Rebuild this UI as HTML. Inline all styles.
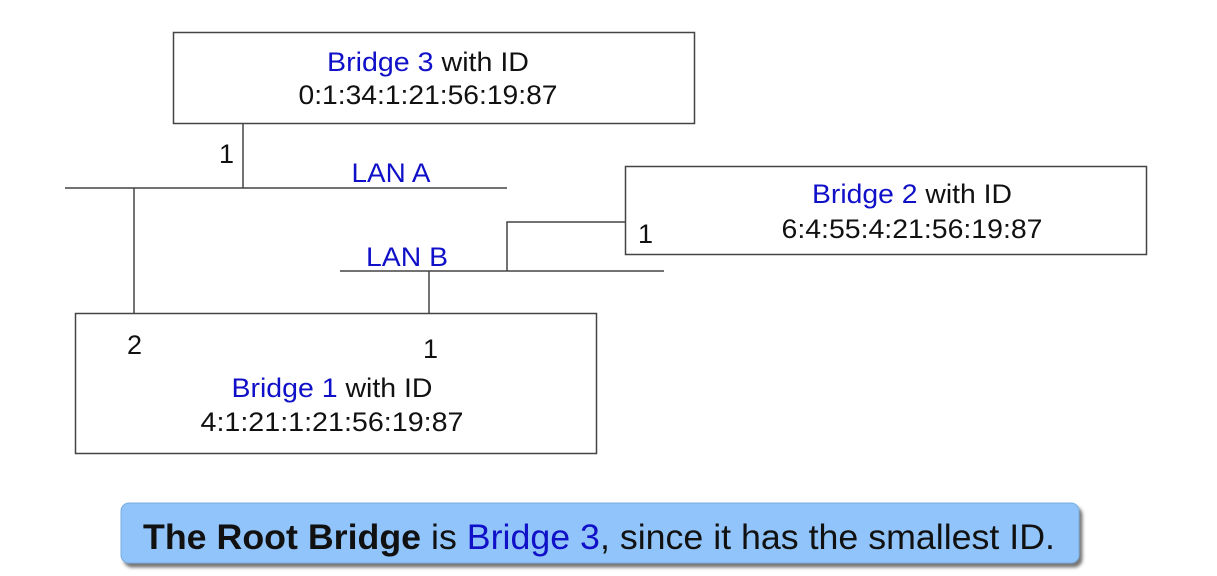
<!DOCTYPE html>
<html><head><meta charset="utf-8"><style>
html,body{margin:0;padding:0;background:#fff;width:1217px;height:576px;overflow:hidden}
svg{display:block}
text{font-family:"Liberation Sans",Arial,sans-serif}
</style></head><body>
<svg width="1217" height="576" viewBox="0 0 1217 576">
<defs><filter id="sh" x="-5%" y="-20%" width="110%" height="150%"><feDropShadow dx="3" dy="4" stdDeviation="1.5" flood-color="#555" flood-opacity="0.8"/></filter></defs>
<g fill="none" stroke="#444" stroke-width="1.5">
<rect x="173.5" y="32.5" width="521" height="91"/>
<rect x="625.5" y="166.5" width="521" height="88"/>
<rect x="75.5" y="313.5" width="521" height="140"/>
<line x1="65" y1="188" x2="507" y2="188"/>
<line x1="243" y1="123" x2="243" y2="188"/>
<line x1="134" y1="188" x2="134" y2="313"/>
<line x1="340" y1="271" x2="664" y2="271"/>
<line x1="429" y1="271" x2="429" y2="313"/>
<polyline points="507,271 507,222 625,222"/>
</g>
<g font-size="27" fill="#111">
<text x="428" y="71" text-anchor="middle" textLength="202" lengthAdjust="spacingAndGlyphs"><tspan fill="#1010c8">Bridge 3</tspan> with ID</text>
<text x="428" y="104" text-anchor="middle" textLength="259" lengthAdjust="spacingAndGlyphs">0:1:34:1:21:56:19:87</text>
<text x="219" y="163">1</text>
<text x="391" y="182" text-anchor="middle" fill="#1010c8" textLength="79" lengthAdjust="spacingAndGlyphs">LAN A</text>
<text x="912" y="203" text-anchor="middle" textLength="200" lengthAdjust="spacingAndGlyphs"><tspan fill="#1010c8">Bridge 2</tspan> with ID</text>
<text x="912" y="238" text-anchor="middle" textLength="261" lengthAdjust="spacingAndGlyphs">6:4:55:4:21:56:19:87</text>
<text x="638" y="243">1</text>
<text x="407" y="266" text-anchor="middle" fill="#1010c8" textLength="82" lengthAdjust="spacingAndGlyphs">LAN B</text>
<text x="127" y="354">2</text>
<text x="423" y="358">1</text>
<text x="332" y="397" text-anchor="middle" textLength="201" lengthAdjust="spacingAndGlyphs"><tspan fill="#1010c8">Bridge 1</tspan> with ID</text>
<text x="332" y="431" text-anchor="middle" textLength="263" lengthAdjust="spacingAndGlyphs">4:1:21:1:21:56:19:87</text>
</g>
<rect x="121" y="503" width="958" height="60" rx="8" fill="#90c4fa" stroke="#7aaee0" filter="url(#sh)"/>
<text x="599" y="549" text-anchor="middle" font-size="35" fill="#111" textLength="912" lengthAdjust="spacingAndGlyphs"><tspan font-weight="bold">The Root Bridge</tspan> is <tspan fill="#1010c8">Bridge 3</tspan>, since it has the smallest ID.</text>
</svg>
</body></html>
